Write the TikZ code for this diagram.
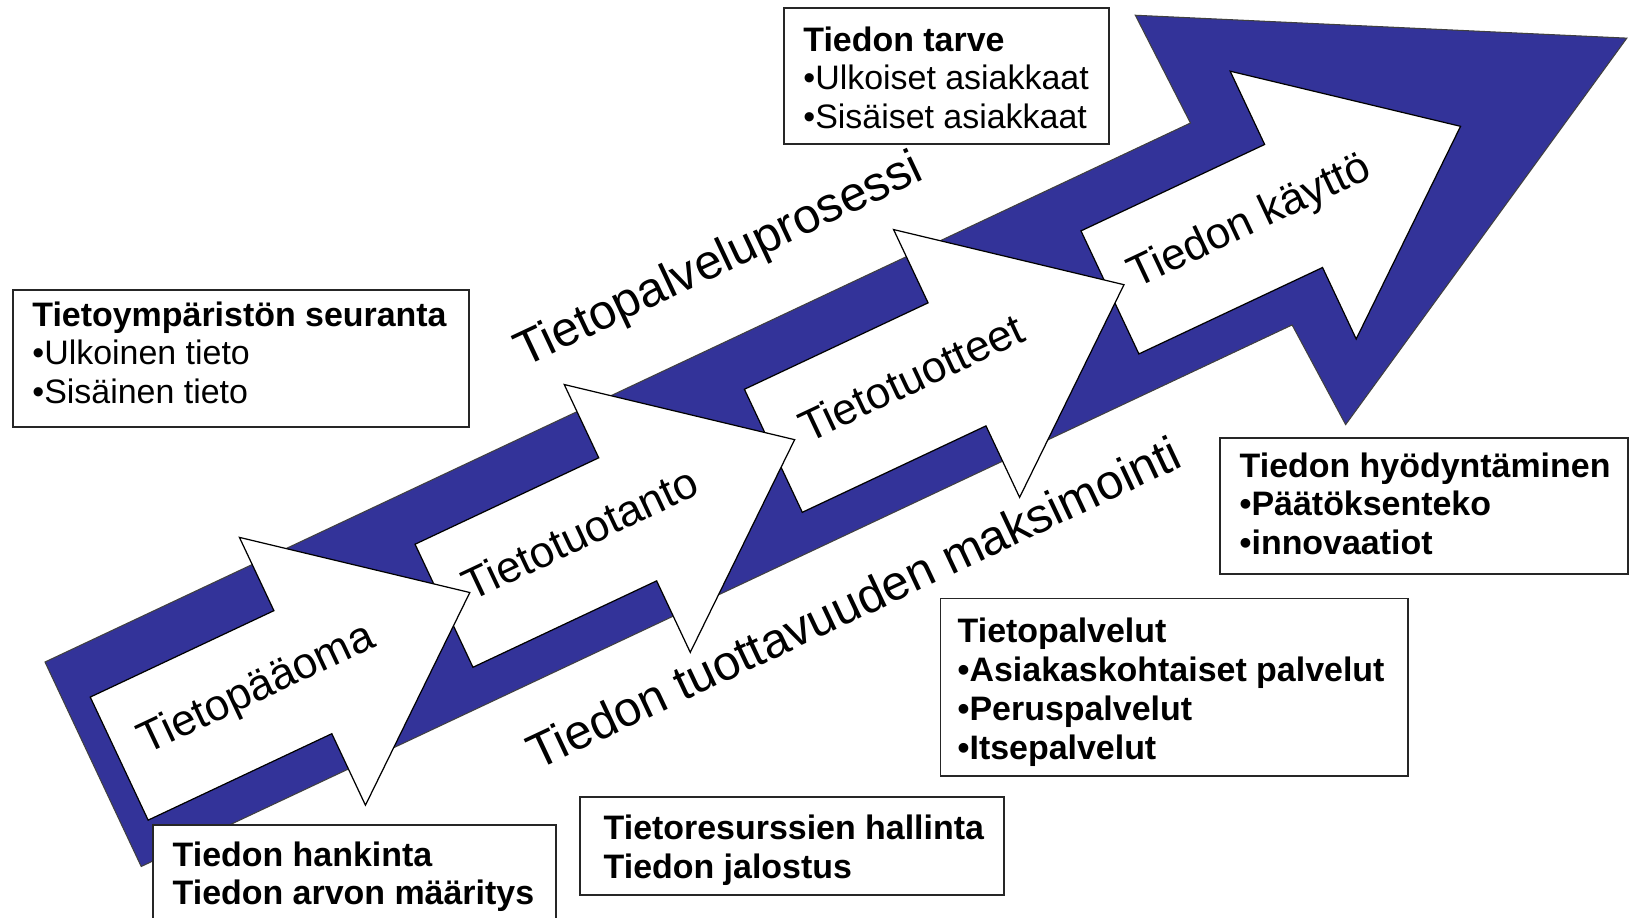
\documentclass[tikz,border=0pt]{standalone}
\usepackage{fontspec}
\setmainfont{Liberation Sans}
\definecolor{bandblue}{RGB}{51,51,153}
\begin{document}
\begin{tikzpicture}[x=0.01cm,y=-0.01cm,
  bigarrow/.style={fill=bandblue, draw=black!75, line width=0.3pt, line join=miter},
  whitearrow/.style={fill=white, draw=black, line width=0.35pt, line join=miter},
  arrowlabel/.style={font=\fontsize{12.5}{14}\selectfont, rotate=25.2, anchor=base, inner sep=0pt},
  biglabel/.style={font=\fontsize{13.9}{16}\selectfont, rotate=25.2, anchor=base, inner sep=0pt},
  infobox/.style={draw=black!85, fill=white, line width=0.55pt, anchor=north west, inner sep=0pt},
  infotext/.style={font=\fontsize{9.65}{11}\selectfont, align=left, anchor=north west, inner sep=0pt}
]
\useasboundingbox (0,0) rectangle (1629,917);
\clip (0,0) rectangle (1629,917);

% big blue arrow and white step arrows, in the band's own frame
\begin{scope}[shift={(45,662)}, rotate=25.2]
  \draw[bigarrow] (0,0) -- (1266,0) -- (1262,-121) -- (1697,109) -- (1278,339) -- (1272,226) -- (0,226) -- cycle;
  \foreach \ub in {1324,952,588,229}{
    \draw[whitearrow] ({\ub-203},51) -- (\ub,51) -- (\ub,-30) -- ({\ub+185},118)
      -- (\ub,266) -- (\ub,187) -- ({\ub-203},187) -- cycle;
  }
  \node[arrowlabel] (l1) at (180,127) {Tietopääoma};
  \node[arrowlabel] (l2) at (539,127) {Tietotuotanto};
  \node[arrowlabel] (l3) at (905,127) {Tietotuotteet};
  \node[arrowlabel] (l4) at (1278,127) {Tiedon käyttö};
\end{scope}

\node[biglabel] (proc) at (725,273) {Tietopalveluprosessi};
\node[biglabel] (maks) at (861,618) {Tiedon tuottavuuden maksimointi};

% text boxes
\node[infobox, minimum width=4.56cm, minimum height=1.37cm] (boxA) at (12,289) {};
\node[infotext] (txtA) at (31.7,301) {\textbf{Tietoympäristön seuranta}\\•Ulkoinen tieto\\•Sisäinen tieto};

\node[infobox, minimum width=3.25cm, minimum height=1.36cm] (boxB) at (783,7) {};
\node[infotext] (txtB) at (802.7,26) {\textbf{Tiedon tarve}\\•Ulkoiset asiakkaat\\•Sisäiset asiakkaat};

\node[infobox, minimum width=4.08cm, minimum height=1.36cm] (boxC) at (1219,437) {};
\node[infotext, font=\fontsize{9.65}{11}\selectfont\bfseries] (txtC) at (1239,452) {Tiedon hyödyntäminen\\•Päätöksenteko\\•innovaatiot};

\node[infobox, minimum width=4.675cm, minimum height=1.775cm] (boxD) at (939.5,597.5) {};
\node[infotext, font=\fontsize{9.65}{11.1}\selectfont\bfseries] (txtD) at (957,617.5) {Tietopalvelut\\•Asiakaskohtaiset palvelut\\•Peruspalvelut\\•Itsepalvelut};

\node[infobox, minimum width=4.234cm, minimum height=0.983cm] (boxE) at (579.3,796) {};
\node[infotext, font=\fontsize{9.65}{11}\selectfont\bfseries] (txtE) at (603,814.5) {Tietoresurssien hallinta\\Tiedon jalostus};

\node[infobox, minimum width=4.03cm, minimum height=1.2cm] (boxF) at (152,824) {};
\node[infotext, font=\fontsize{9.65}{11}\selectfont\bfseries] (txtF) at (172,841) {Tiedon hankinta\\Tiedon arvon määritys};
\end{tikzpicture}
\end{document}
